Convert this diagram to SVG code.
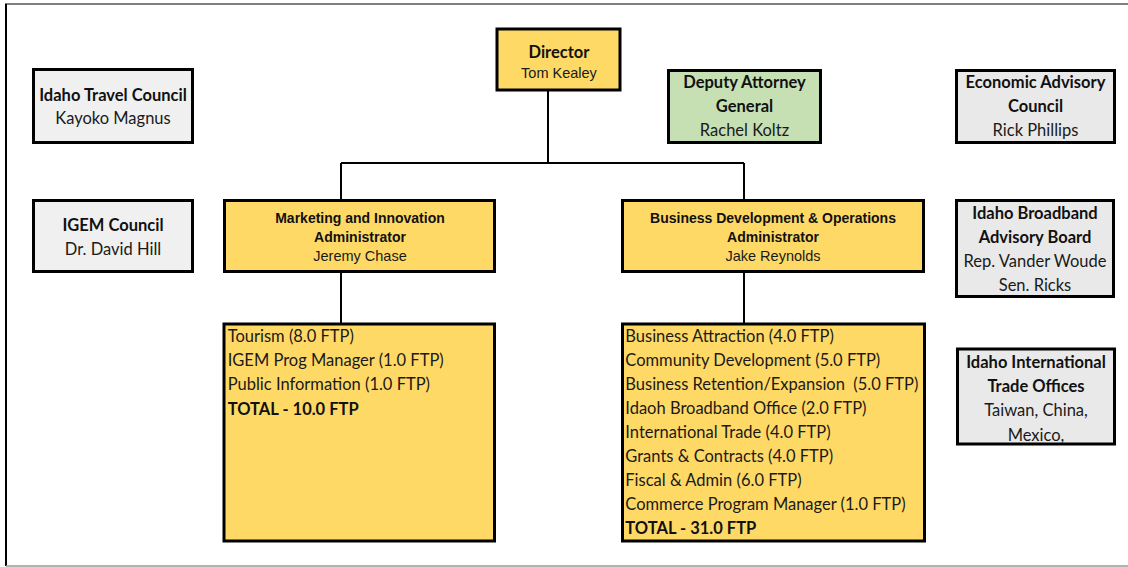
<svg xmlns="http://www.w3.org/2000/svg" width="1128" height="567" viewBox="0 0 1128 567">
<style>
.bx{stroke:#000;stroke-width:3}
.y{fill:#FFD966}
.g{fill:#C6E0B4}
.l{fill:#F0F0F0}
.d{fill:#E9E9E9}
.c{font-family:"Lato","Open Sans",sans-serif;font-size:16.5px;fill:#1a1a1a}
.cb{font-family:"Lato","Open Sans",sans-serif;font-size:16.5px;font-weight:bold;fill:#111}
.a{font-family:"Liberation Sans",Arial,sans-serif;font-size:14.5px;fill:#1a1a1a}
.ab{font-family:"Liberation Sans",Arial,sans-serif;font-size:14px;font-weight:bold;fill:#111}
.m{text-anchor:middle}
.ln{stroke:#000;stroke-width:2;fill:none}
</style>
<rect width="1128" height="567" fill="#fff"/>
<g id="frame">
<line x1="5" y1="4" x2="1128" y2="4" stroke="#555" stroke-width="1.5"/>
<line x1="6" y1="4" x2="6" y2="566" stroke="#000" stroke-width="2"/>
<line x1="6" y1="566" x2="1128" y2="566" stroke="#999" stroke-width="1.5"/>
</g>
<g id="connectors">
<path class="ln" d="M548 91V163M341 163H744M341 163V200M744 163V200M341 272V324M744 272V324"/>
</g>
<g id="director">
<rect class="bx y" x="497" y="29" width="123" height="61"/>
<text class="cb m" x="559" y="58">Director</text>
<text class="a m" x="559" y="78">Tom Kealey</text>
</g>
<g id="deputy-ag">
<rect class="bx g" x="668.5" y="70.5" width="152" height="72"/>
<text class="cb m" x="744.5" y="88.3">Deputy Attorney</text>
<text class="cb m" x="744.5" y="112.3">General</text>
<text class="c m" x="744.5" y="136.3">Rachel Koltz</text>
</g>
<g id="travel-council">
<rect class="bx l" x="33.5" y="69.5" width="159" height="73"/>
<text class="cb m" x="113" y="100.6">Idaho Travel Council</text>
<text class="c m" x="113" y="123.6">Kayoko Magnus</text>
</g>
<g id="economic-council">
<rect class="bx d" x="956.5" y="70.5" width="158" height="72"/>
<text class="cb m" x="1035.5" y="88.3">Economic Advisory</text>
<text class="cb m" x="1035.5" y="112.3">Council</text>
<text class="c m" x="1035.5" y="136.3">Rick Phillips</text>
</g>
<g id="igem-council">
<rect class="bx l" x="33.5" y="200.5" width="159" height="71"/>
<text class="cb m" x="113" y="230.6">IGEM Council</text>
<text class="c m" x="113" y="254.9">Dr. David Hill</text>
</g>
<g id="marketing-admin">
<rect class="bx y" x="224.5" y="200.5" width="270" height="71"/>
<text class="ab m" x="360" y="223.3">Marketing and Innovation</text>
<text class="ab m" x="360" y="242.3">Administrator</text>
<text class="a m" x="360" y="261.2">Jeremy Chase</text>
</g>
<g id="bizdev-admin">
<rect class="bx y" x="622.5" y="200.5" width="301" height="71"/>
<text class="ab m" x="773" y="223.3">Business Development &amp; Operations</text>
<text class="ab m" x="773" y="242.3">Administrator</text>
<text class="a m" x="773" y="261.2">Jake Reynolds</text>
</g>
<g id="broadband-board">
<rect class="bx d" x="956.5" y="200.5" width="157" height="96"/>
<text class="cb m" x="1035" y="219">Idaho Broadband</text>
<text class="cb m" x="1035" y="243">Advisory Board</text>
<text class="c m" x="1035" y="267.3">Rep. Vander Woude</text>
<text class="c m" x="1035" y="291.3">Sen. Ricks</text>
</g>
<g id="marketing-staff">
<rect class="bx y" x="224" y="324" width="270.5" height="217"/>
<text class="c" x="227.7" y="341.6">Tourism (8.0 FTP)</text>
<text class="c" x="227.7" y="365.6">IGEM Prog Manager (1.0 FTP)</text>
<text class="c" x="227.7" y="389.6">Public Information (1.0 FTP)</text>
<text class="cb" x="227.7" y="414.6">TOTAL - 10.0 FTP</text>
</g>
<g id="bizdev-staff">
<rect class="bx y" x="622.5" y="324" width="302" height="217"/>
<text class="c" x="625.3" y="341.6">Business Attraction (4.0 FTP)</text>
<text class="c" x="625.3" y="365.6">Community Development (5.0 FTP)</text>
<text class="c" x="625.3" y="389.6" xml:space="preserve">Business Retention/Expansion  (5.0 FTP)</text>
<text class="c" x="625.3" y="413.6">Idaoh Broadband Office (2.0 FTP)</text>
<text class="c" x="625.3" y="437.6">International Trade (4.0 FTP)</text>
<text class="c" x="625.3" y="461.6">Grants &amp; Contracts (4.0 FTP)</text>
<text class="c" x="625.3" y="485.6">Fiscal &amp; Admin (6.0 FTP)</text>
<text class="c" x="625.3" y="509.6">Commerce Program Manager (1.0 FTP)</text>
<text class="cb" x="625.3" y="534">TOTAL - 31.0 FTP</text>
</g>
<g id="trade-offices">
<rect class="bx d" x="957.5" y="349" width="157" height="95"/>
<text class="cb m" x="1036" y="368">Idaho International</text>
<text class="cb m" x="1036" y="392.3">Trade Offices</text>
<text class="c m" x="1036" y="415.6">Taiwan, China,</text>
<text class="c m" x="1036" y="440.6">Mexico,</text>
</g>
</svg>
